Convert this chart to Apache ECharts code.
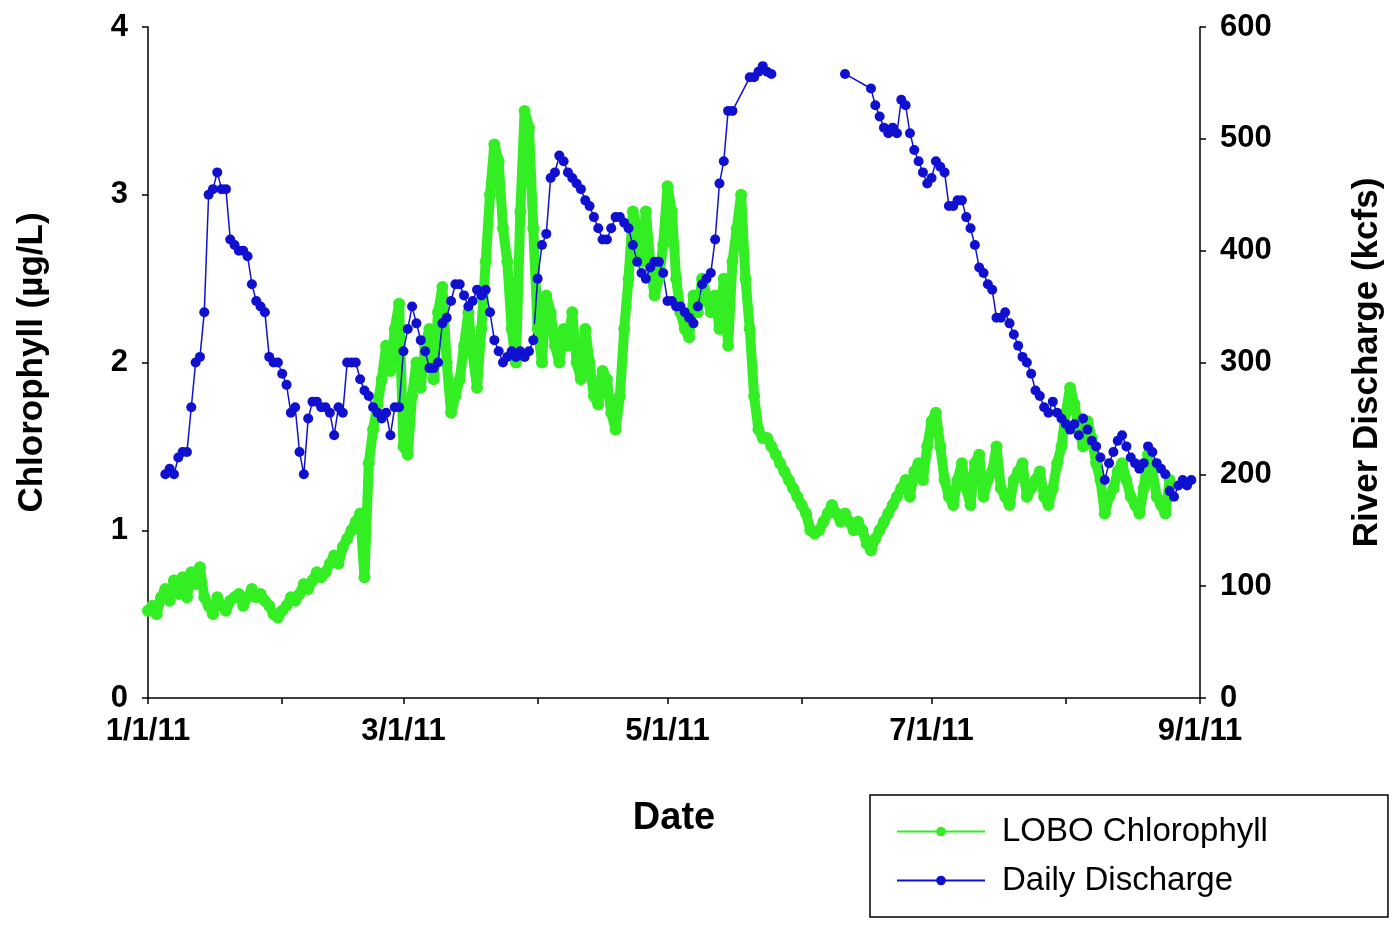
<!DOCTYPE html>
<html><head><meta charset="utf-8">
<script src="https://cdn.jsdelivr.net/npm/echarts@6/dist/echarts.min.js"></script>
<style>html,body{margin:0;background:#fff}#chart{width:1393px;height:937px}</style>
</head><body><div id="chart"></div>
<script>
// 2011年 日序号 (1/1 = 0)
const MONTH_START = [0, 31, 59, 90, 120, 151, 181, 212, 243];
const MONTH_LABELS = { 0: '1/1/11', 59: '3/1/11', 120: '5/1/11', 181: '7/1/11', 243: '9/1/11' };

// LOBO Chlorophyll, daily from 1/1
const chlJan = [.52,.55,.5,.6,.65,.58,.7,.62,.72,.6,.75,.68,.78,.6,.55,.5,.6,.55,.52,.58,.6,.62,.55,.6,.65,.6,.62,.58,.55,.5,.48];
const chlFeb = [.52,.55,.6,.58,.62,.68,.65,.7,.75,.72,.75,.8,.85,.8,.9,.95,1.0,1.05,1.1,.72,1.4,1.6,1.75,1.9,2.1,1.95,2.2,2.35];
const chlMar = [1.5,1.45,1.8,2.0,1.85,2.1,2.2,1.9,2.3,2.45,2.0,1.7,1.8,1.9,2.1,2.3,2.05,1.85,2.2,2.6,3.0,3.3,3.2,2.8,2.6,2.2,2.0,2.9,3.5,3.4,2.8];
const chlApr = [2.2,2.0,2.4,2.3,2.1,2.0,2.2,2.1,2.3,2.0,1.9,2.2,2.0,1.8,1.75,1.95,1.9,1.7,1.6,1.8,2.2,2.5,2.9,2.8,2.6,2.9,2.6,2.4,2.5,2.7];
const chlMay = [3.05,2.9,2.5,2.3,2.2,2.15,2.4,2.3,2.5,2.4,2.3,2.4,2.2,2.5,2.1,2.6,2.8,3.0,2.5,2.2,1.8,1.6,1.55,1.55,1.5,1.45,1.4,1.35,1.3,1.25,1.2];
const chlJun = [1.15,1.1,1.0,.98,1.0,1.05,1.1,1.15,1.1,1.05,1.1,1.05,1.0,1.05,1.0,.92,.88,.95,1.0,1.05,1.1,1.15,1.2,1.25,1.3,1.2,1.35,1.4,1.3,1.5];
const chlJul = [1.65,1.7,1.5,1.3,1.2,1.15,1.3,1.4,1.25,1.15,1.4,1.45,1.2,1.3,1.35,1.5,1.25,1.2,1.15,1.3,1.35,1.4,1.2,1.25,1.3,1.35,1.2,1.15,1.25,1.4,1.5];
const chlAug = [1.7,1.85,1.75,1.6,1.5,1.65,1.55,1.4,1.3,1.1,1.2,1.25,1.35,1.4,1.3,1.2,1.15,1.1,1.25,1.45,1.35,1.2,1.15,1.1,1.3];

// Daily Discharge (kcfs): [start day, values...]
const disJan = [4, [200,205,200,215,220,220,260,300,305,345,450,455,470,455,455,410,405,400,400,395,370,355,350,345,305,300,300]];
const disFeb = [31, [290,280,255,260,220,200,250,265,265,260,260,255,235,260,255,300,300,300,285,275,270,260,255,250,255,235,260,260]];
const disMar = [59, [310,330,350,335,320,310,295,295,300,335,340,355,370,370,360,350,355,365,360,365,345,320,310,300,305,310,305,310,305,310,320]];
const disApr = [90, [375,405,415,465,470,485,480,470,465,460,455,445,440,430,420,410,410,420,430,430,425,420,405,390,380,375,385,390,390,380]];
const disMayA = [120, [355,355,350,350,345,340,335,350,370,375,380,410,460,480,525,525]];
const disMayB = [139, [555,555,560,565,560,558]];
const disJunA = [161, [558]];
const disJunB = [167, [545,530,520,510,505,510,505,535,530,505,490,480,470,460]];
const disJul = [181, [465,480,475,470,440,440,445,445,430,420,405,385,380,370,365,340,340,345,335,325,315,305,300,290,275,270,260,255,265,255,250]];
const disAug = [212, [245,240,245,235,250,240,230,225,215,195,210,220,230,235,225,215,210,205,210,225,220,210,205,200,185,180,190,195,190,195]];

const chlData = [];
[chlJan, chlFeb, chlMar, chlApr, chlMay, chlJun, chlJul, chlAug].forEach((arr, m) => {
  arr.forEach((v, i) => chlData.push([MONTH_START[m] + i, v]));
});
const disData = [];
[disJan, disFeb, disMar, disApr, disMayA, disMayB, null, disJunA, disJunB, disJul, disAug].forEach(seg => {
  if (!seg) { disData.push([145, null]); return; }
  seg[1].forEach((v, i) => disData.push([seg[0] + i, v]));
});

const FONT = 'Liberation Sans';
const tickLbl = { fontSize: 31, fontWeight: 'bold', color: '#000' };
const chart = echarts.init(document.getElementById('chart'));
chart.setOption({
  animation: false,
  textStyle: { fontFamily: FONT },
  grid: { left: 148, right: 193, top: 27, bottom: 239 },
  legend: {
    orient: 'vertical', left: 870, top: 795,
    borderColor: '#000', borderWidth: 1.5, padding: [20, 120, 20, 26],
    itemWidth: 88, itemHeight: 12, itemGap: 16,
    textStyle: { fontSize: 33, color: '#000', fontFamily: FONT, padding: [0, 0, 0, 12], width: 360, overflow: 'none' },
    data: ['LOBO Chlorophyll', 'Daily Discharge']
  },
  xAxis: {
    type: 'value', min: 0, max: 243,
    name: 'Date', nameLocation: 'middle', nameGap: 102,
    nameTextStyle: { fontSize: 38, fontWeight: 'bold', color: '#000' },
    splitLine: { show: false },
    axisLine: { lineStyle: { color: '#000', width: 1.5 } },
    axisTick: { customValues: MONTH_START, length: 6, lineStyle: { color: '#000', width: 1.5 } },
    axisLabel: Object.assign({ customValues: Object.keys(MONTH_LABELS).map(Number), formatter: v => MONTH_LABELS[v] || '', margin: 18 }, tickLbl)
  },
  yAxis: [
    { type: 'value', min: 0, max: 4, interval: 1,
      name: 'Chlorophyll (µg/L)', nameLocation: 'middle', nameGap: 98, nameRotate: 90,
      nameTextStyle: { fontSize: 35, fontWeight: 'bold', color: '#000' },
      splitLine: { show: false },
      axisLine: { show: true, lineStyle: { color: '#000', width: 1.5 } },
      axisTick: { show: true, length: 6, lineStyle: { color: '#000', width: 1.5 } },
      axisLabel: Object.assign({ margin: 20 }, tickLbl) },
    { type: 'value', min: 0, max: 600, interval: 100, position: 'right',
      name: 'River Discharge (kcfs)', nameLocation: 'middle', nameGap: 150, nameRotate: 90,
      nameTextStyle: { fontSize: 35, fontWeight: 'bold', color: '#000' },
      splitLine: { show: false },
      axisLine: { show: true, lineStyle: { color: '#000', width: 1.5 } },
      axisTick: { show: true, length: 6, lineStyle: { color: '#000', width: 1.5 } },
      axisLabel: Object.assign({ margin: 20 }, tickLbl) }
  ],
  series: [
    { name: 'LOBO Chlorophyll', type: 'line', yAxisIndex: 0, data: chlData,
      symbol: 'circle', symbolSize: 12, lineStyle: { color: '#33ee22', width: 10 }, itemStyle: { color: '#33ee22' } },
    { name: 'Daily Discharge', type: 'line', yAxisIndex: 1, data: disData, connectNulls: false,
      symbol: 'circle', symbolSize: 10, lineStyle: { color: '#1010d0', width: 1.5 }, itemStyle: { color: '#1010d0' } }
  ]
});
</script></body></html>
